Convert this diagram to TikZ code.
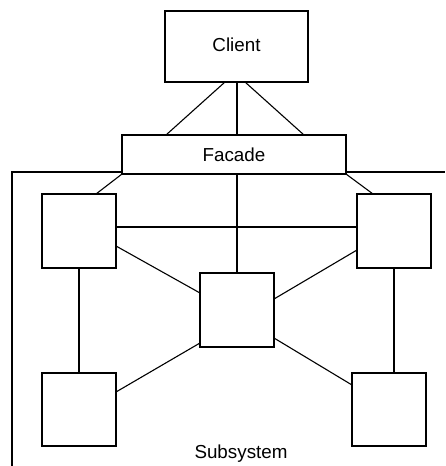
\documentclass[tikz,border=0pt]{standalone}
\usepackage{fontspec}
\setmainfont{Liberation Sans}
\begin{document}
\begin{tikzpicture}[x=1pt,y=-1pt,
  box/.style={draw,line width=1.1pt,outer sep=0pt,inner sep=0pt,fill=white},
  lbl/.style={font=\fontsize{18.8}{22}\selectfont},
  link/.style={line width=1.1pt}]
\useasboundingbox (0,0) rectangle (445,466);
\fill[white] (0,0) rectangle (445,466);
\node[box,minimum width=143pt,minimum height=71pt] (client) at (236.5,46.5) {};
\node[lbl,anchor=base] (clientlbl) at (236.5,51.7) {Client};
\node[box,lbl,minimum width=224pt,minimum height=39pt] (facade) at (234,154.5) {Facade};
\node[box,minimum width=74pt,minimum height=74pt] (lt) at (79,231) {};
\node[box,minimum width=74pt,minimum height=74pt] (rt) at (394,231) {};
\node[box,minimum width=74pt,minimum height=74pt] (m) at (237,310) {};
\node[box,minimum width=74pt,minimum height=73pt] (lb) at (79,409.5) {};
\node[box,minimum width=74pt,minimum height=73pt] (rb) at (389,409.5) {};
\node[lbl,anchor=base] (sub) at (241,458) {Subsystem};
% subsystem frame
\coordinate (fl) at ([yshift=2pt]facade.south west);
\coordinate (fr) at ([yshift=2pt]facade.south east);
\draw[link] (12,466) -- (12,172) -- (fl);
\draw[link] (fr) -- (445,172);
% client to facade
\draw[link] ([xshift=-11.5pt]client.south) -- ([xshift=-68pt]facade.north);
\draw[link] ([xshift=0.5pt]client.south) -- ([xshift=0.5pt]client.south |- facade.north);
\draw[link] ([xshift=8.5pt]client.south) -- ([xshift=70pt]facade.north);
% facade to subsystem
\draw[link] (facade.south west) -- ([xshift=17pt]lt.north);
\draw[link] (facade.south east) -- ([xshift=-21pt]rt.north);
\draw[link] (m.north |- facade.south) -- (m.north);
% internal links
\draw[link] ([yshift=4pt]lt.east) -- ([yshift=4pt]rt.west);
\draw[link] ([yshift=-15pt]lt.east) -- ([yshift=17pt]m.west);
\draw[link] ([yshift=-19pt]rt.west) -- ([yshift=11pt]m.east);
\draw[link] ([yshift=-33pt]m.west) -- ([yshift=17.5pt]lb.east);
\draw[link] ([yshift=-28pt]m.east) -- ([yshift=24.5pt]rb.west);
\draw[link] (lt.south) -- (lb.north);
\draw[link] (rt.south) -- (rt.south |- rb.north);
\end{tikzpicture}
\end{document}
